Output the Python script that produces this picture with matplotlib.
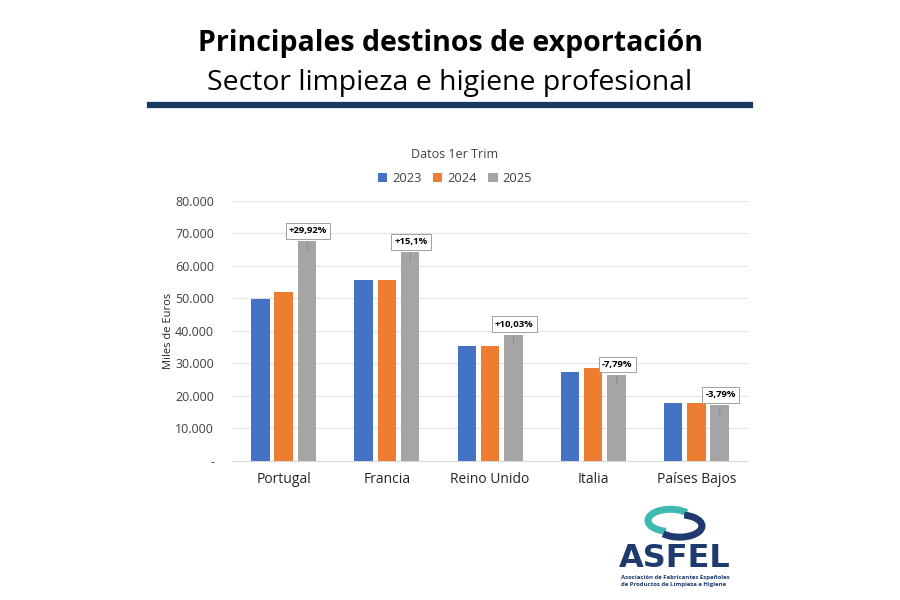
import numpy as np
import matplotlib.pyplot as plt
from matplotlib.patches import Arc

countries = ['Portugal', 'Francia', 'Reino Unido', 'Italia', 'Países Bajos']
v2023 = [49900, 55700, 35300, 27400, 17750]
v2024 = [52000, 55700, 35300, 28700, 17850]
v2025 = [67600, 64200, 38850, 26450, 17150]
changes = ['+29,92%', '+15,1%', '+10,03%', '-7,79%', '-3,79%']
years = ['2023', '2024', '2025']
colors = ['#4472C4', '#ED7D31', '#A5A5A5']

plt.rcParams['font.family'] = ['Open Sans', 'DejaVu Sans']

fig = plt.figure(figsize=(9, 6), dpi=100)
fig.patch.set_facecolor('white')

# header
fig.text(0.5, 0.928, 'Principales destinos de exportación', ha='center', va='center',
         fontsize=20.5, fontweight='bold', color='black')
fig.text(0.5, 0.862, 'Sector limpieza e higiene profesional', ha='center', va='center',
         fontsize=20.4, color='black')
fig.add_artist(plt.Line2D([0.167, 0.833], [0.825, 0.825], color='#173A64', lw=4.5))

ax = fig.add_axes([0.258, 0.232, 0.573, 0.433])
x = np.arange(len(countries))
w = 0.18
step = 0.225
for i, (vals, c, yr) in enumerate(zip([v2023, v2024, v2025], colors, years)):
    ax.bar(x + (i - 1) * step, vals, width=w, color=c, label=yr, zorder=3)

for xi, top, txt in zip(x, v2025, changes):
    bx = xi + step
    ax.annotate(txt, xy=(bx, top - 3600), xytext=(bx + 0.01, top + 3200),
                ha='center', va='center', fontsize=6.8, fontweight='bold',
                bbox=dict(boxstyle='square,pad=0.35', fc='white', ec='#A0A0A0', lw=0.7),
                arrowprops=dict(arrowstyle='-', color='#8C8C8C', lw=0.7), zorder=5)

ax.set_ylim(0, 80000)
ax.set_xlim(-0.5, len(countries) - 0.5)
ax.set_yticks(np.arange(0, 80001, 10000))
ax.set_yticklabels(['-'] + ['{:,}'.format(v).replace(',', '.') for v in range(10000, 80001, 10000)],
                   fontsize=9, color='#404040')
ax.set_xticks(x)
ax.set_xticklabels(countries, fontsize=10, color='#262626')
ax.tick_params(axis='both', length=0)
ax.tick_params(axis='x', pad=8)
ax.tick_params(axis='y', pad=13)
ax.grid(axis='y', color='#E3E3E3', lw=0.8, zorder=0)
for s in ['top', 'right', 'left']:
    ax.spines[s].set_visible(False)
ax.spines['bottom'].set_color('#D9D9D9')
ax.set_ylabel('Miles de Euros', fontsize=8, color='#262626', labelpad=1)

fig.text(0.505, 0.742, 'Datos 1er Trim', ha='center', va='center', fontsize=9, color='#404040')
ax.legend(loc='center', bbox_to_anchor=(0.432, 1.088), ncol=3, frameon=False,
          fontsize=9.3, handlelength=0.7, handleheight=0.7, handletextpad=0.4,
          columnspacing=0.9, labelcolor='#404040')

# logo
lax = fig.add_axes([0.715, 0.097, 0.07, 0.062])
lax.set_xlim(-1.4, 1.4)
lax.set_ylim(-1, 1)
lax.axis('off')
lax.add_patch(Arc((-0.2, 0.15), 2.0, 1.2, theta1=30, theta2=250, color='#3FB8AF', lw=5))
lax.add_patch(Arc((0.2, -0.15), 2.0, 1.2, theta1=210, theta2=430, color='#1F3A6E', lw=5))
fig.text(0.750, 0.069, 'ASFEL', ha='center', va='center', fontsize=23, fontweight='bold',
         color='#1F3A6E', family='DejaVu Sans')
fig.text(0.690, 0.038, 'Asociación de Fabricantes Españoles', ha='left', va='center',
         fontsize=4.3, fontweight='bold', color='#1F3A6E')
fig.text(0.690, 0.026, 'de Productos de Limpieza e Higiene', ha='left', va='center',
         fontsize=4.3, fontweight='bold', color='#1F3A6E')

fig.savefig('out.png', dpi=100)
